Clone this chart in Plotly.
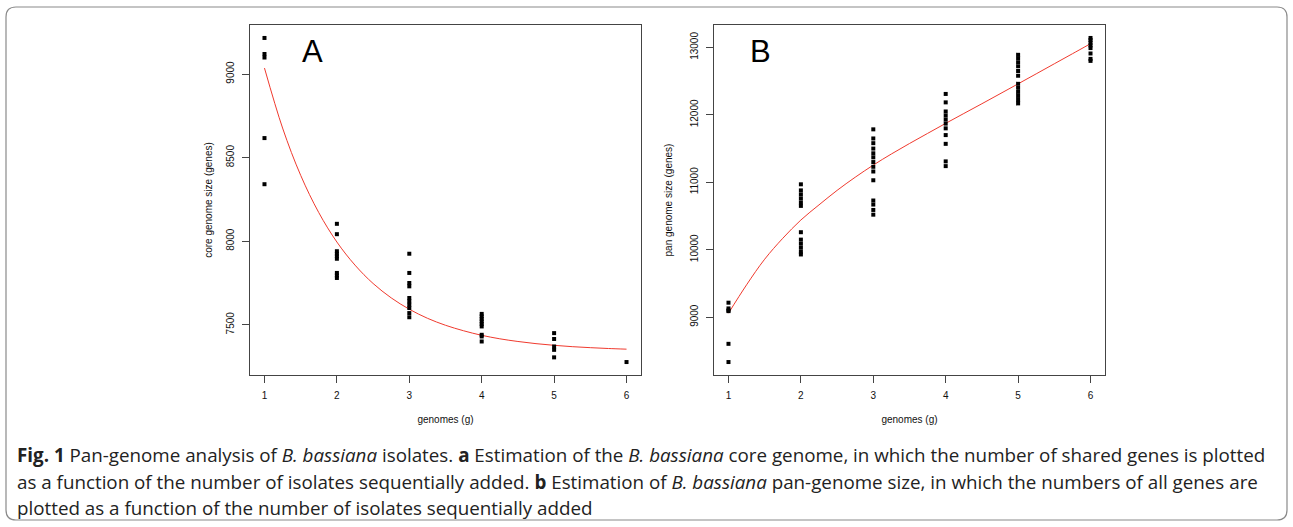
import plotly.graph_objects as go

W, H = 1293, 527

# ---------------- data ----------------
genomes = [1, 2, 3, 4, 5, 6]

core_g1 = [9216, 9120, 9099, 8617, 8341]
core_g2 = [8104, 8042, 7940, 7925, 7910, 7895, 7810, 7795, 7780]
core_g3 = [7925, 7810, 7750, 7730, 7660, 7640, 7620, 7600, 7570, 7545]
core_g4 = [7565, 7550, 7535, 7520, 7505, 7490, 7440, 7430, 7400]
core_g5 = [7450, 7415, 7370, 7350, 7305]
core_g6 = [7277]

pan_g1 = [9215, 9130, 9100, 9090, 8605, 8335]
pan_g2 = [10970, 10880, 10820, 10760, 10700, 10650, 10260, 10150, 10090, 10030, 9970, 9930]
pan_g3 = [11785, 11650, 11580, 11500, 11430, 11370, 11300, 11230, 11160, 11030, 10730, 10670, 10590, 10520]
pan_g4 = [12310, 12185, 12050, 11990, 11930, 11870, 11800, 11700, 11570, 11310, 11240]
pan_g5 = [12890, 12840, 12780, 12720, 12650, 12580, 12460, 12400, 12340, 12280, 12220, 12170]
pan_g6 = [13140, 13110, 13070, 13030, 12990, 12910, 12830, 12800]

fit_x = [1.0, 1.25, 1.5, 1.75, 2.0, 2.25, 2.5, 2.75, 3.0, 3.25, 3.5,
         3.75, 4.0, 4.25, 4.5, 4.75, 5.0, 5.25, 5.5, 5.75, 6.0]
core_fit = [9036, 8677, 8394, 8171, 7995, 7857, 7747, 7661, 7593, 7539, 7497,
            7464, 7437, 7416, 7400, 7387, 7377, 7369, 7363, 7358, 7354]
pan_fit = [9059, 9480, 9860, 10170, 10441, 10665, 10880, 11075, 11255, 11420, 11575,
           11725, 11874, 12020, 12165, 12312, 12460, 12608, 12757, 12906, 13055]

core_ticks = [7500, 8000, 8500, 9000]
pan_ticks = [9000, 10000, 11000, 12000, 13000]

core_groups = [core_g1, core_g2, core_g3, core_g4, core_g5, core_g6]
pan_groups = [pan_g1, pan_g2, pan_g3, pan_g4, pan_g5, pan_g6]

caption_lines = [
    "<b>Fig. 1</b> Pan-genome analysis of <i>B. bassiana</i> isolates. <b>a</b> Estimation of the "
    "<i>B. bassiana</i> core genome, in which the number of shared genes is plotted",
    "as a function of the number of isolates sequentially added. <b>b</b> Estimation of "
    "<i>B. bassiana</i> pan-genome size, in which the numbers of all genes are",
    "plotted as a function of the number of isolates sequentially added",
]


def px(xs):
    return xs / W


def py(ys):
    return 1 - ys / H


def flatten(groups):
    xs, ys = [], []
    for g, vals in zip(genomes, groups):
        xs += [g] * len(vals)
        ys += vals
    return xs, ys


def r_range(vals):
    lo, hi = min(vals), max(vals)
    pad = 0.04 * (hi - lo)
    return [lo - pad, hi + pad]


core_x, core_y = flatten(core_groups)
pan_x, pan_y = flatten(pan_groups)

red = "#f03a2e"
fig = go.Figure()
fig.add_trace(go.Scatter(x=fit_x, y=core_fit, mode="lines", line=dict(color=red, width=1, shape="spline"),
                         xaxis="x", yaxis="y", hoverinfo="skip"))
fig.add_trace(go.Scatter(x=core_x, y=core_y, mode="markers",
                         marker=dict(symbol="square", size=4, color="black", line=dict(width=0)),
                         xaxis="x", yaxis="y"))
fig.add_trace(go.Scatter(x=fit_x, y=pan_fit, mode="lines", line=dict(color=red, width=1, shape="spline"),
                         xaxis="x2", yaxis="y2", hoverinfo="skip"))
fig.add_trace(go.Scatter(x=pan_x, y=pan_y, mode="markers",
                         marker=dict(symbol="square", size=4, color="black", line=dict(width=0)),
                         xaxis="x2", yaxis="y2"))

tickfont = dict(family="Liberation Sans, Arial, sans-serif", size=10, color="#111")
axline = dict(showline=True, mirror=True, linecolor="#444", linewidth=1, ticks="outside",
              ticklen=7, tickcolor="#444", tickwidth=1, showgrid=False, zeroline=False,
              tickfont=tickfont, ticklabelstandoff=4)

ybot = py(375)
ytop = py(25)

fig.update_layout(
    width=W, height=H, autosize=False,
    margin=dict(l=0, r=0, t=0, b=0),
    paper_bgcolor="white", plot_bgcolor="white",
    showlegend=False,
    xaxis=dict(domain=[px(250), px(641)], range=[0.8, 6.2], tickvals=genomes,
               title=dict(text="genomes (g)", font=tickfont, standoff=15), anchor="y", **axline),
    yaxis=dict(domain=[ybot, ytop], range=r_range(core_y), tickvals=core_ticks, tickangle=-90,
               tickformat="d",
               title=dict(text="core genome size (genes)", font=tickfont, standoff=10), anchor="x", **axline),
    xaxis2=dict(domain=[px(714), px(1105)], range=[0.8, 6.2], tickvals=genomes,
                title=dict(text="genomes (g)", font=tickfont, standoff=15), anchor="y2", **axline),
    yaxis2=dict(domain=[ybot, ytop], range=r_range(pan_y), tickvals=pan_ticks, tickangle=-90,
                tickformat="d",
                title=dict(text="pan genome size (genes)", font=tickfont, standoff=14), anchor="x2", **axline),
)

# panel letters
letter_font = dict(family="Liberation Sans, Arial, sans-serif", size=31, color="black")
fig.add_annotation(text="A", x=px(312), y=py(52), xref="paper", yref="paper", showarrow=False,
                   xanchor="center", yanchor="middle", font=letter_font)
fig.add_annotation(text="B", x=px(760), y=py(52), xref="paper", yref="paper", showarrow=False,
                   xanchor="center", yanchor="middle", font=letter_font)

# caption
for line, ypx in zip(caption_lines, [455, 482, 508]):
    fig.add_annotation(text=line, x=px(15), y=py(ypx), xref="paper", yref="paper",
                       xanchor="left", yanchor="middle", showarrow=False, align="left",
                       font=dict(family="Open Sans, sans-serif", size=18.8, color="#222"))

# outer rounded frame
x0, x1 = px(6), px(1287)
yt, yb = py(7), py(520)
rx, ry = 10 / W, 10 / H
path = (f"M {x0 + rx},{yt} L {x1 - rx},{yt} Q {x1},{yt} {x1},{yt - ry} L {x1},{yb + ry} "
        f"Q {x1},{yb} {x1 - rx},{yb} L {x0 + rx},{yb} Q {x0},{yb} {x0},{yb + ry} "
        f"L {x0},{yt - ry} Q {x0},{yt} {x0 + rx},{yt} Z")
fig.add_shape(type="path", path=path, xref="paper", yref="paper",
              line=dict(color="#8a8a8a", width=1.2), layer="below")

fig.write_html("out.html", config={"displayModeBar": False},
               post_script="document.body.style.margin='0px';")
